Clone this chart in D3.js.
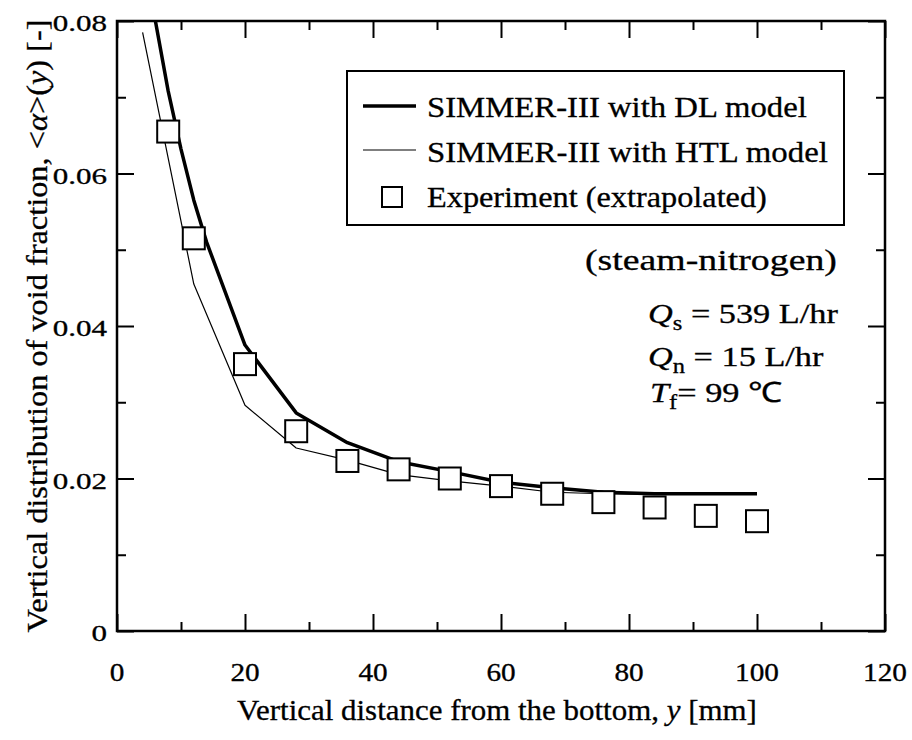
<!DOCTYPE html>
<html><head><meta charset="utf-8">
<script src="https://cdn.jsdelivr.net/npm/d3@7"></script>
</head><body style="margin:0;background:#fff">
<svg id="c" width="912" height="740"></svg>
<script>
// ---------- data ----------
const expX = [8,12,20,28,36,44,52,60,68,76,84,92,100];
const expY = [0.0655,0.0515,0.0350,0.0262,0.0223,0.0212,0.0200,0.0190,0.0180,0.0169,0.0162,0.0151,0.0144];
const dlX  = [6,8,10,12,14,20,28,36,44,52,60,68,76,84,92,100];
const dlY  = [0.0800,0.0708,0.0632,0.0565,0.0510,0.0375,0.0286,0.0247,0.0222,0.0209,0.0195,0.0188,0.0182,0.0180,0.0180,0.0180];
const htlX = [4,12,20,28,36,44,52,60,68,76,84,92,100];
const htlY = [0.0785,0.0455,0.0296,0.0240,0.0224,0.0205,0.0197,0.0190,0.0182,0.0180,0.0179,0.0179,0.0179];
const xMajor = [0,20,40,60,80,100,120];
const xMinor = [10,30,50,70,90,110];
const xTickLabels = ["0","20","40","60","80","100","120"];
const yMajor = [0,0.02,0.04,0.06,0.08];
const yMinor = [0.01,0.03,0.05,0.07];
const yTickLabels = ["0","0.02","0.04","0.06","0.08"];
const legendLabels = ["SIMMER-III with DL model","SIMMER-III with HTL model","Experiment (extrapolated)"];

// ---------- setup ----------
const FONT = '"Liberation Serif"';
const svg = d3.select("#c");
const x = d3.scaleLinear().domain([0,120]).range([117,885]);
const y = d3.scaleLinear().domain([0,0.08]).range([631,21]);

svg.append("defs").append("clipPath").attr("id","clip").append("rect")
  .attr("x",x(0)).attr("y",y(0.08)).attr("width",x(120)-x(0)).attr("height",y(0)-y(0.08));

function stext(parent, px, py, size, anchor, rot){
  const g = parent.append("g");
  const t = g.append("text").style("font-family",FONT).attr("font-size",size)
    .attr("text-anchor",anchor).attr("fill","#000")
    .attr("stroke","#000").attr("stroke-width",0.3);
  t._g = g; t._px = px; t._py = py; t._rot = rot||0;
  return t;
}
function applyStretch(t, f){
  t._g.attr("transform",`translate(${t._px},${t._py}) rotate(${t._rot}) scale(${f},1)`);
}
function fitWidth(t, w){
  const n = t.node().getComputedTextLength();
  applyStretch(t, w/n);
  return w/n;
}

// ---------- ticks ----------
function axisG(axis, tx, ty){
  const g = svg.append("g").attr("transform",`translate(${tx},${ty})`).call(axis);
  g.select(".domain").remove();
  g.selectAll(".tick line").attr("stroke","#000").attr("stroke-width",2);
  g.selectAll(".tick text").remove();
}
axisG(d3.axisBottom(x).tickValues(xMajor).tickSize(-17), 0, y(0));
axisG(d3.axisBottom(x).tickValues(xMinor).tickSize(-9), 0, y(0));
axisG(d3.axisTop(x).tickValues(xMajor).tickSize(-17), 0, y(0.08));
axisG(d3.axisTop(x).tickValues(xMinor).tickSize(-9), 0, y(0.08));
axisG(d3.axisLeft(y).tickValues(yMajor).tickSize(-17), x(0), 0);
axisG(d3.axisLeft(y).tickValues(yMinor).tickSize(-9), x(0), 0);
axisG(d3.axisRight(y).tickValues(yMajor).tickSize(-17), x(120), 0);
axisG(d3.axisRight(y).tickValues(yMinor).tickSize(-9), x(120), 0);

svg.append("rect").attr("x",x(0)).attr("y",y(0.08))
  .attr("width",x(120)-x(0)).attr("height",y(0)-y(0.08))
  .attr("fill","none").attr("stroke","#000").attr("stroke-width",2.5);

// tick labels
yMajor.forEach((v,i)=>{
  const t = stext(svg, 107, y(v)+10, 23, "end");
  t.text(yTickLabels[i]);
  applyStretch(t, 1.35);
});
xMajor.forEach((v,i)=>{
  const t = stext(svg, x(v), 681, 25, "middle");
  t.text(xTickLabels[i]);
  applyStretch(t, 1.17);
});

// ---------- lines ----------
const line = d3.line().x(d=>x(d[0])).y(d=>y(d[1]));
const plot = svg.append("g").attr("clip-path","url(#clip)");
plot.append("path").datum(d3.zip(htlX,htlY)).attr("d",line)
  .attr("fill","none").attr("stroke","#000").attr("stroke-width",1.2).attr("stroke-linejoin","round");
plot.append("path").datum(d3.zip(dlX,dlY)).attr("d",line)
  .attr("fill","none").attr("stroke","#000").attr("stroke-width",3.5).attr("stroke-linejoin","round");

plot.selectAll("rect.exp").data(d3.zip(expX,expY)).enter().append("rect")
  .attr("class","exp")
  .attr("x",d=>x(d[0])-11).attr("y",d=>y(d[1])-11)
  .attr("width",22).attr("height",22)
  .attr("fill","#fff").attr("stroke","#000").attr("stroke-width",2);

// ---------- legend ----------
const lg = svg.append("g");
lg.append("rect").attr("x",347).attr("y",71).attr("width",497).attr("height",154)
  .attr("fill","#fff").attr("stroke","#000").attr("stroke-width",2);
lg.append("line").attr("x1",363).attr("x2",416).attr("y1",106).attr("y2",106)
  .attr("stroke","#000").attr("stroke-width",3.5);
lg.append("line").attr("x1",363).attr("x2",416).attr("y1",150).attr("y2",150)
  .attr("stroke","#000").attr("stroke-width",1.2);
lg.append("rect").attr("x",382).attr("y",187).attr("width",20).attr("height",20)
  .attr("fill","#fff").attr("stroke","#000").attr("stroke-width",2);
const lgBase = [117,162,207];
const lgWidth = [380,401,340];
legendLabels.forEach((s,i)=>{
  const t = stext(lg, 427, lgBase[i], 29, "start");
  t.text(s);
  fitWidth(t, lgWidth[i]);
});

// ---------- annotations ----------
const sn = stext(svg, 585, 270, 30, "start");
sn.text("(steam-nitrogen)");
fitWidth(sn, 252);

function condLine(px, py, sym, sub, rest){
  const t = stext(svg, px, py, 28, "start");
  t.append("tspan").attr("font-style","italic").text(sym);
  t.append("tspan").attr("font-size",20).attr("dy",7).text(sub);
  t.append("tspan").attr("dy",-7).text(rest);
  return t;
}
const q1 = condLine(648, 323, "Q", "s", " = 539 L/hr");
const f = fitWidth(q1, 190);
const q2 = condLine(648, 366, "Q", "n", " = 15 L/hr");
applyStretch(q2, f);
const q3 = condLine(650, 402, "T", "f", "= 99 \u2103");
applyStretch(q3, f);

// ---------- axis titles ----------
const xt = stext(svg, 497, 720, 30, "middle");
xt.append("tspan").text("Vertical distance from the bottom, ");
xt.append("tspan").attr("font-style","italic").text("y");
xt.append("tspan").text(" [mm]");
fitWidth(xt, 520);

const yt = stext(svg, 47, 326, 30, "middle", -90);
yt.append("tspan").text("Vertical distribution of void fraction, <");
yt.append("tspan").attr("font-style","italic").text("\u03B1");
yt.append("tspan").text(">(");
yt.append("tspan").attr("font-style","italic").text("y");
yt.append("tspan").text(") [-]");
fitWidth(yt, 613);
</script>
</body></html>
